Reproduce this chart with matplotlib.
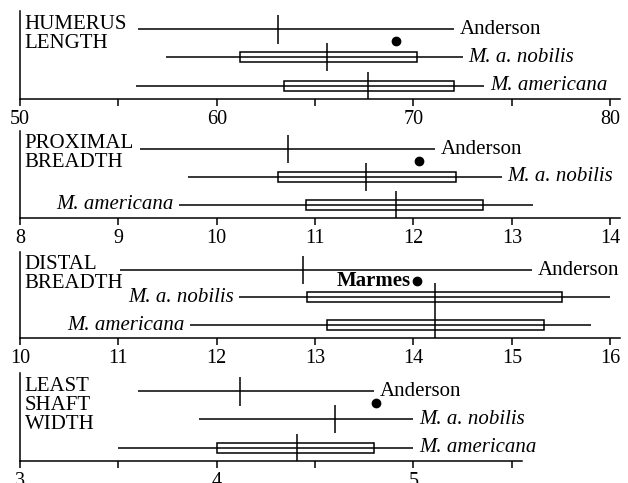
import matplotlib
matplotlib.use("Agg")
import matplotlib.pyplot as plt
from matplotlib.patches import Rectangle

plt.rcParams['font.family'] = ['Liberation Serif', 'DejaVu Serif']

# ---- data ----
panel_titles = ["HUMERUS\nLENGTH", "PROXIMAL\nBREADTH", "DISTAL\nBREADTH", "LEAST\nSHAFT\nWIDTH"]
groups = ["Anderson", "M. a. nobilis", "M. americana"]

# panel 1: humerus length
hl_range = [(56.0, 72.05), (57.4, 72.5), (55.9, 73.6)]
hl_box = [None, (61.2, 70.2), (63.4, 72.05)]
hl_mean = [63.1, 65.6, 67.7]
hl_marmes = 69.1

# panel 2: proximal breadth
pb_range = [(9.22, 12.22), (9.71, 12.9), (9.62, 13.22)]
pb_box = [None, (10.62, 12.43), (10.91, 12.71)]
pb_mean = [10.72, 11.52, 11.82]
pb_marmes = 12.06

# panel 3: distal breadth
db_range = [(11.02, 15.21), (12.23, 16.0), (11.73, 15.81)]
db_box = [None, (12.92, 15.51), (13.12, 15.33)]
db_mean = [12.88, 14.22, 14.22]
db_marmes = 14.04

# panel 4: least shaft width
sw_range = [(3.6, 4.8), (3.91, 5.0), (3.5, 5.0)]
sw_box = [None, None, (4.0, 4.8)]
sw_mean = [4.12, 4.6, 4.41]
sw_marmes = 4.81

label_sides = [["r", "r", "r"], ["r", "r", "l"], ["r", "l", "l"], ["r", "r", "r"]]
marmes_labeled = [False, False, True, False]

xlims = [(50, 80.5), (8, 14.1), (10, 16.1), (3, 6.05)]
major_ticks = [[50, 60, 70, 80], [8, 9, 10, 11, 12, 13, 14], [10, 11, 12, 13, 14, 15, 16], [3, 4, 5]]
minor_ticks = [[55, 65, 75], [], [], [3.5, 4.5, 5.5]]
spine_end = [80.5, 14.1, 16.1, 5.55]

panels = [
    (hl_range, hl_box, hl_mean, hl_marmes),
    (pb_range, pb_box, pb_mean, pb_marmes),
    (db_range, db_box, db_mean, db_marmes),
    (sw_range, sw_box, sw_mean, sw_marmes),
]

# ---- layout ----
W, H = 628, 483
fig = plt.figure(figsize=(W / 100, H / 100), dpi=100)
tops = [11, 131, 252, 373]
bottoms = [99, 218, 338, 461]
left_px, right_px = 20, 620

row_y = [0.79, 0.475, 0.15]
marmes_y = 0.66
tick_half = 0.16
box_half = 0.058
lw = 1.1
fs = 15

for i, (rng, box, mean, marmes) in enumerate(panels):
    ax = fig.add_axes([left_px / W, 1 - bottoms[i] / H, (right_px - left_px) / W,
                       (bottoms[i] - tops[i]) / H])
    ax.set_xlim(*xlims[i])
    ax.set_ylim(0, 1)
    ax.spines['top'].set_visible(False)
    ax.spines['right'].set_visible(False)
    ax.spines['left'].set_linewidth(lw)
    ax.spines['bottom'].set_linewidth(lw)
    ax.spines['bottom'].set_bounds(xlims[i][0], spine_end[i])
    ax.set_yticks([])
    ax.set_xticks(major_ticks[i])
    ax.set_xticks(minor_ticks[i], minor=True)
    ax.set_xticklabels([str(t) for t in major_ticks[i]])
    ax.tick_params(axis='x', which='both', direction='out', length=5, width=lw,
                   labelsize=14.5, pad=3)
    ax.patch.set_alpha(0)

    for j in range(3):
        y = row_y[j]
        x0, x1 = rng[j]
        ax.plot([x0, x1], [y, y], color='black', lw=lw, solid_capstyle='butt')
        if box[j] is not None:
            b0, b1 = box[j]
            ax.add_patch(Rectangle((b0, y - box_half), b1 - b0, 2 * box_half,
                                   fill=False, edgecolor='black', lw=lw))
        ax.plot([mean[j], mean[j]], [max(0, y - tick_half), y + tick_half],
                color='black', lw=lw, solid_capstyle='butt')
        style = 'normal' if j == 0 else 'italic'
        if label_sides[i][j] == 'r':
            ax.annotate(groups[j], (x1, y), xytext=(4, 0), textcoords='offset points',
                        ha='left', va='center', fontsize=fs, style=style)
        else:
            ax.annotate(groups[j], (x0, y), xytext=(-4, 0), textcoords='offset points',
                        ha='right', va='center', fontsize=fs, style=style)

    ax.plot([marmes], [marmes_y], 'o', color='black', markersize=6)
    if marmes_labeled[i]:
        ax.annotate("Marmes", (marmes, marmes_y), xytext=(-5, 0), textcoords='offset points',
                    ha='right', va='center', fontsize=fs, fontweight='bold')

    ax.text(0.008, 0.96, panel_titles[i], transform=ax.transAxes, ha='left', va='top',
            fontsize=fs, linespacing=1.0)

fig.savefig("out.png", dpi=100)
